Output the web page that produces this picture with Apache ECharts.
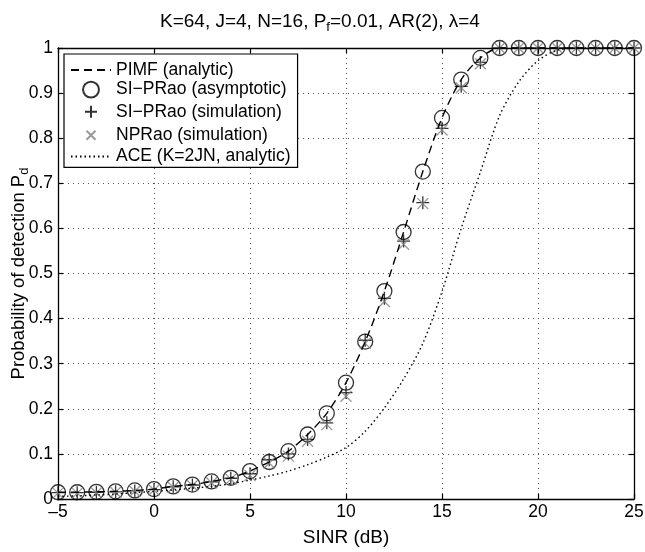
<!DOCTYPE html>
<html>
<head>
<meta charset="utf-8">
<title>Pd vs SINR</title>
<script src="https://cdn.jsdelivr.net/npm/echarts@6/dist/echarts.min.js"></script>
<style>
  html, body { margin: 0; padding: 0; background: #fff; }
  #chart { width: 645px; height: 552px; }
</style>
</head>
<body>
<div id="chart"></div>
<script>
// SINR grid (dB)
var sinr = [-5,-4,-3,-2,-1,0,1,2,3,4,5,6,7,8,9,10,11,12,13,14,15,16,17,18,19,20,21,22,23,24,25];

// PIMF analytic (dashed line) and SI-PRao asymptotic (circles) coincide
var pimfAnalytic = [0.015,0.015,0.016,0.017,0.019,0.022,0.028,0.032,0.039,0.047,0.062,0.082,0.106,0.143,0.19,0.258,0.349,0.461,0.592,0.726,0.845,0.93,0.978,1,1,1,1,1,1,1,1];
var siPRaoAsym   = [0.015,0.015,0.016,0.017,0.019,0.022,0.028,0.032,0.039,0.047,0.062,0.082,0.106,0.143,0.19,0.258,0.349,0.461,0.592,0.726,0.845,0.93,0.978,1,1,1,1,1,1,1,1];
var siPRaoSim    = [0.014,0.014,0.015,0.016,0.018,0.021,0.027,0.031,0.038,0.046,0.056,0.087,0.1,0.132,0.169,0.236,0.352,0.445,0.572,0.657,0.822,0.915,0.968,1,1,1,1,1,1,1,1];
var npRaoSim     = [0.013,0.013,0.014,0.015,0.017,0.02,0.026,0.03,0.036,0.044,0.052,0.08,0.095,0.128,0.165,0.228,0.345,0.438,0.565,0.655,0.818,0.912,0.965,1,1,1,1,1,1,1,1];
var aceAnalytic  = [0.006,0.007,0.009,0.011,0.014,0.017,0.02,0.024,0.028,0.034,0.042,0.051,0.062,0.076,0.093,0.114,0.15,0.202,0.266,0.345,0.46,0.6,0.725,0.85,0.925,0.972,0.995,1,1,1,1];

var legendNames = ['PIMF (analytic)', 'SI\u2212PRao (asymptotic)', 'SI\u2212PRao (simulation)', 'NPRao (simulation)', 'ACE (K=2JN, analytic)'];

function pairs(ys) {
  return sinr.map(function (x, i) { return [x, ys[i]]; });
}

var FONT = 'Liberation Sans';
var chart = echarts.init(document.getElementById('chart'), null, { renderer: 'canvas' });

var tickStyle = { show: true, inside: true, length: 5, lineStyle: { color: '#000', width: 1.2 } };
var axisLineStyle = { show: true, onZero: false, lineStyle: { color: '#000', width: 1.3 } };
var gridDots = { show: true, lineStyle: { color: '#555', width: 1, type: [1, 4] } };
var hideSym = { color: 'rgba(0,0,0,0)', borderWidth: 0 };

var option = {
  animation: false,
  backgroundColor: '#fff',
  title: {
    text: '{n|K=64, J=4, N=16, P}{s|f}{n|=0.01, AR(2), λ=4}',
    left: 155,
    top: 4,
    textStyle: {
      fontWeight: 'normal',
      rich: {
        n: { fontFamily: FONT, fontSize: 19, fontWeight: 'normal', color: '#000' },
        s: { fontFamily: FONT, fontSize: 13, fontWeight: 'normal', color: '#000', padding: [12, 0, 0, 0] }
      }
    }
  },
  grid: { left: 58, right: 11, top: 48, bottom: 53, containLabel: false, outerBoundsMode: 'none' },
  legend: {
    orient: 'vertical',
    left: 64,
    top: 54,
    padding: [7, 7, 2, 6],
    itemGap: 0.6,
    itemWidth: 40,
    itemHeight: 18,
    backgroundColor: '#fff',
    borderColor: '#000',
    borderWidth: 1.2,
    textStyle: { fontFamily: FONT, fontSize: 17.5, lineHeight: 18, color: '#000' },
    data: [
      { name: legendNames[0], itemStyle: hideSym },
      { name: legendNames[1], icon: 'path://M-1.15,0A1.15,1.15,0,1,1,1.15,0A1.15,1.15,0,1,1,-1.15,0ZM-1.3,-1.3M1.3,1.3' },
      { name: legendNames[2], icon: 'path://M-1.5,-1.5M1.5,1.5M0,-1L0,1M-1,0L1,0' },
      { name: legendNames[3], icon: 'path://M-1.6,-1.6M1.6,1.6M-0.8,-0.8L0.8,0.8M-0.8,0.8L0.8,-0.8' },
      { name: legendNames[4], itemStyle: hideSym }
    ]
  },
  xAxis: [{
    type: 'value', min: -5, max: 25, interval: 5,
    name: 'SINR (dB)', nameLocation: 'middle', nameGap: 29,
    nameTextStyle: { fontFamily: FONT, fontSize: 19, color: '#000' },
    axisLine: axisLineStyle, axisTick: tickStyle, splitLine: gridDots,
    axisLabel: { fontFamily: FONT, fontSize: 17.5, color: '#000', margin: 4,
      formatter: function (v) { return v < 0 ? '\u2013' + Math.abs(v) : String(v); } }
  }, {
    type: 'value', min: -5, max: 25, interval: 5, position: 'top',
    axisLine: axisLineStyle, axisTick: tickStyle, splitLine: { show: false }, axisLabel: { show: false }
  }],
  yAxis: [{
    type: 'value', min: 0, max: 1, interval: 0.1,
    name: '{n|Probability of detection P}{s|d}', nameLocation: 'middle', nameGap: 27,
    nameMoveOverlap: false,
    nameTextStyle: {
      rich: {
        n: { fontFamily: FONT, fontSize: 18.5, color: '#000' },
        s: { fontFamily: FONT, fontSize: 13, color: '#000', padding: [12, 0, 0, 0] }
      }
    },
    axisLine: axisLineStyle, axisTick: tickStyle, splitLine: gridDots,
    axisLabel: { fontFamily: FONT, fontSize: 17.5, color: '#000', margin: 5,
      formatter: function (v) { return String(Math.round(v * 10) / 10); } }
  }, {
    type: 'value', min: 0, max: 1, interval: 0.1, position: 'right',
    axisLine: axisLineStyle, axisTick: tickStyle, splitLine: { show: false }, axisLabel: { show: false }
  }],
  series: [
    {
      name: legendNames[4], type: 'line', data: pairs(aceAnalytic),
      symbol: 'none', smooth: 0.3, clip: false,
      lineStyle: { color: '#000', width: 1.4, type: [1.5, 3] },
      itemStyle: { color: '#000' }
    },
    {
      name: legendNames[0], type: 'line', data: pairs(pimfAnalytic),
      symbol: 'none', smooth: 0.3, clip: false,
      lineStyle: { color: '#000', width: 1.4, type: [8, 5] },
      itemStyle: { color: '#000' }
    },
    {
      name: legendNames[1], type: 'scatter', data: pairs(siPRaoAsym),
      symbol: 'circle', symbolSize: 15, clip: false,
      itemStyle: { color: 'rgba(0,0,0,0)', borderColor: '#000', borderWidth: 1.3 }
    },
    {
      name: legendNames[2], type: 'scatter', data: pairs(siPRaoSim),
      symbol: 'path://M0,-1L0,1M-1,0L1,0', symbolSize: 13, clip: false,
      itemStyle: { color: 'none', borderColor: '#000', borderWidth: 1.3 }
    },
    {
      name: legendNames[3], type: 'scatter', data: pairs(npRaoSim),
      symbol: 'path://M-1,-1L1,1M-1,1L1,-1', symbolSize: 11, clip: false,
      itemStyle: { color: 'none', borderColor: '#808080', borderWidth: 1.3 }
    }
  ]
};

chart.setOption(option);
</script>
</body>
</html>
